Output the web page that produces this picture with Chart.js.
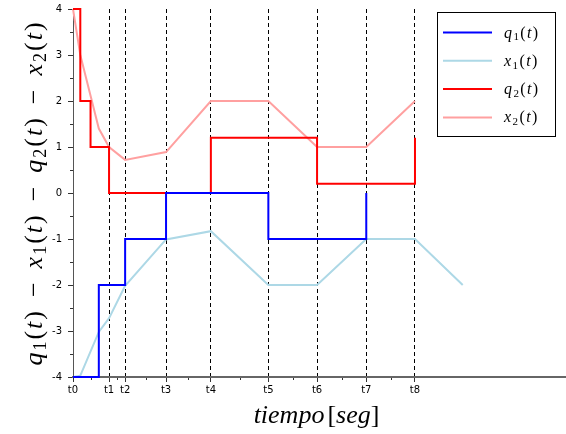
<!DOCTYPE html>
<html>
<head>
<meta charset="utf-8">
<script src="https://cdn.jsdelivr.net/npm/chart.js@4.4.1/dist/chart.umd.min.js"></script>
<style>
  html, body { margin: 0; padding: 0; background: #fff; }
  #wrap { width: 566px; height: 434px; }
</style>
</head>
<body>
<div id="wrap"><canvas id="chart" width="566" height="434"></canvas></div>
<script>
// event times and their labels
const tickTimes = [0, 0.74, 1.07, 1.91, 2.83, 4.01, 5.01, 6.02, 7.02]
const tickLabels = ['t0', 't1', 't2', 't3', 't4', 't5', 't6', 't7', 't8']

// quantized states (value holds until next time)
const q1Times = [0, 0.53, 1.07, 1.91, 4.01, 6.02]
const q1Values = [-4, -2, -1, 0, -1, 0]
const q2Times = [0, 0.15, 0.36, 0.74, 2.83, 5.01, 7.02]
const q2Values = [4, 2, 1, 0, 1.2, 0.2, 1.2]

// continuous states
const x1Times = [0, 0.15, 0.53, 0.74, 1.07, 1.91, 2.83, 4.01, 5.01, 6.02, 7.02, 8.0]
const x1Values = [-4, -3.97, -3.02, -2.72, -2.02, -1.01, -0.83, -2, -2, -1, -1, -2]
const x2Times = [0, 0.15, 0.53, 0.74, 1.07, 1.91, 2.83, 4.01, 5.01, 6.02, 7.02]
const x2Values = [4, 3.0, 1.4, 1.0, 0.72, 0.89, 2.0, 2.0, 1.0, 1.0, 2.0]

const seriesNames = ['q1', 'x1', 'q2', 'x2']
const seriesColors = ['#0000ff', '#add8e6', '#ff0000', '#ffa0a0']

const toPoints = (xs, ys) => xs.map((x, i) => ({ x: x, y: ys[i] }))

// --- little math-text helper (italic letters, upright digits / parens, subscripts)
const SERIF = '"Liberation Serif", "DejaVu Serif", serif'
function term(letter, sub) {
    return [{ t: letter, it: true }, { t: sub, sub: true }, { t: '(' }, { t: 't', it: true }, { t: ')' }]
}
function runFont(r, size) {
    if (r.sub) return Math.round(size * 0.7) + 'px ' + SERIF
    return (r.it ? 'italic ' : '') + size + 'px ' + SERIF
}
function runsWidth(ctx, runs, size, spacing) {
    let w = 0
    runs.forEach(r => {
        if (r.gap) { w += r.gap; return }
        ctx.font = runFont(r, size)
        w += ctx.measureText(r.t).width + spacing
    })
    return w
}
function drawRuns(ctx, runs, x, y, size, spacing) {
    ctx.textBaseline = 'alphabetic'
    ctx.textAlign = 'left'
    runs.forEach(r => {
        if (r.gap) { x += r.gap; return }
        ctx.font = runFont(r, size)
        ctx.fillText(r.t, x, r.sub ? y + size * 0.17 : y)
        x += ctx.measureText(r.t).width + spacing
    })
}

const extras = {
    id: 'extras',
    afterDraw(chart) {
        const ctx = chart.ctx
        const xs = chart.scales.x, ys = chart.scales.y
        const area = chart.chartArea
        ctx.save()
        // minor ticks
        ctx.strokeStyle = '#333'
        ctx.lineWidth = 1
        ctx.beginPath()
        for (let i = 0; i < tickTimes.length - 1; i++) {
            const px = Math.round(xs.getPixelForValue((tickTimes[i] + tickTimes[i + 1]) / 2)) + 0.5
            ctx.moveTo(px, area.bottom + 1)
            ctx.lineTo(px, area.bottom + 3)
        }
        for (let v = -3.5; v < 4; v += 1) {
            const py = Math.round(ys.getPixelForValue(v)) + 0.5
            ctx.moveTo(area.left - 3, py)
            ctx.lineTo(area.left, py)
        }
        ctx.stroke()

        ctx.fillStyle = '#000'
        // x title
        const xt = [{ t: 'tiempo', it: true }, { gap: 3 }, { t: '[' }, { t: 'seg', it: true }, { t: ']' }]
        const xw = runsWidth(ctx, xt, 26, 0)
        drawRuns(ctx, xt, (area.left + area.right) / 2 - 3 - xw / 2, 423, 26, 0)

        // y title
        const minus = [{ gap: 12 }, { t: '\u2212' }, { gap: 12 }]
        const yt = [].concat(term('q', '1'), minus, term('x', '1'), minus, term('q', '2'), minus, term('x', '2'))
        const yw = runsWidth(ctx, yt, 26, 2)
        ctx.save()
        ctx.translate(42, (area.top + area.bottom) / 2)
        ctx.rotate(-Math.PI / 2)
        drawRuns(ctx, yt, -yw / 2, 0, 26, 2)
        ctx.restore()

        // legend box
        const bx = 437.5, by = 12.5, bw = 118, bh = 124
        ctx.fillStyle = '#fff'
        ctx.fillRect(bx, by, bw, bh)
        ctx.strokeStyle = '#000'
        ctx.lineWidth = 1
        ctx.strokeRect(bx, by, bw, bh)
        chart.data.datasets.forEach((ds, i) => {
            const ly = 32.5 + i * 28.3
            ctx.strokeStyle = ds.borderColor
            ctx.lineWidth = 2
            ctx.beginPath()
            ctx.moveTo(443, ly)
            ctx.lineTo(492, ly)
            ctx.stroke()
            ctx.fillStyle = '#000'
            const name = ds.label
            drawRuns(ctx, term(name[0], name[1]), 504, ly + 5, 16, 1.4)
        })
        ctx.restore()
    }
}

const allSeries = [
    toPoints(q1Times, q1Values),
    toPoints(x1Times, x1Values),
    toPoints(q2Times, q2Values),
    toPoints(x2Times, x2Values)
]

new Chart(document.getElementById('chart'), {
    type: 'line',
    data: {
        datasets: allSeries.map((pts, i) => ({
            label: seriesNames[i],
            data: pts,
            borderColor: seriesColors[i],
            backgroundColor: seriesColors[i],
            borderWidth: 2,
            pointRadius: 0,
            fill: false,
            tension: 0,
            stepped: i % 2 === 0 ? 'before' : false,
            clip: false
        }))
    },
    options: {
        responsive: false,
        devicePixelRatio: 1,
        animation: false,
        layout: { padding: { top: 9, left: 0, right: 0, bottom: 0 } },
        plugins: { legend: { display: false }, tooltip: { enabled: false } },
        scales: {
            x: {
                type: 'linear',
                min: 0,
                max: 10.12,
                afterFit: s => { s.height = 57; s.paddingLeft = 0; s.paddingRight = 0 },
                afterBuildTicks: s => { s.ticks = tickTimes.map(v => ({ value: v })) },
                ticks: {
                    autoSkip: false,
                    maxRotation: 0,
                    padding: 2,
                    color: '#000',
                    font: { family: 'DejaVu Sans', size: 10 },
                    callback: (v, i) => tickLabels[i]
                },
                grid: { color: '#000', lineWidth: 1, tickLength: 5, tickColor: '#333' },
                border: { display: true, color: '#666', width: 2, dash: [4, 3] }
            },
            y: {
                min: -4,
                max: 4,
                afterFit: s => { s.width = 73; s.paddingTop = 0; s.paddingBottom = 0 },
                ticks: {
                    stepSize: 1,
                    padding: 6,
                    color: '#000',
                    font: { family: 'DejaVu Sans', size: 10 }
                },
                grid: { drawOnChartArea: false, tickLength: 5, tickColor: '#333' },
                border: { display: true, color: '#555', width: 1 }
            }
        }
    },
    plugins: [extras]
})
</script>
</body>
</html>
